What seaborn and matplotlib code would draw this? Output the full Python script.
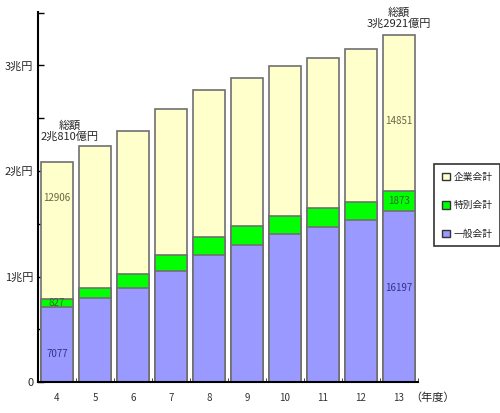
import matplotlib
matplotlib.use("Agg")
import matplotlib.pyplot as plt
import matplotlib.patches as mpatches
import seaborn as sns
import pandas as pd

# 単位: 億円
years = ["4", "5", "6", "7", "8", "9", "10", "11", "12", "13"]
general = [7077, 7930, 8940, 10520, 12010, 12990, 14000, 14690, 15330, 16197]
special = [827, 1010, 1300, 1550, 1700, 1770, 1770, 1770, 1700, 1873]
enterprise = [12906, 13430, 13580, 13810, 13970, 14080, 14180, 14280, 14500, 14851]

series_names = ["企業会計", "特別会計", "一般会計"]
colors = {"企業会計": "#FFFFCC", "特別会計": "#00FF00", "一般会計": "#9999FF"}

yticks_major = [0, 10000, 20000, 30000]
ytick_labels = ["0", "1兆円", "2兆円", "3兆円"]

df = pd.DataFrame({"year": years, "general": general, "special": special,
                   "enterprise": enterprise})
df["gs"] = df["general"] + df["special"]
df["total"] = df["gs"] + df["enterprise"]

sns.set_style("white")
plt.rcParams["font.family"] = ["Noto Sans CJK JP", "DejaVu Sans"]

fig = plt.figure(figsize=(5, 4.13), dpi=100)
ax = fig.add_axes([0.076, 0.075, 0.76, 0.896])

# stacked by overlaying cumulative heights
for col, name in [("total", "企業会計"), ("gs", "特別会計"), ("general", "一般会計")]:
    sns.barplot(data=df, x="year", y=col, color=colors[name], width=0.84,
                edgecolor="#707070", linewidth=1.2, saturation=1, ax=ax)

ax.set_xlim(-0.5, 9.5)
ax.set_ylim(0, 35070)
ax.set_yticks(yticks_major)
ax.set_yticklabels(ytick_labels, fontsize=8)
ax.set_yticks([5000, 15000, 25000, 35000], minor=True)
ax.tick_params(axis="y", which="both", direction="in", length=4, width=1,
               color="black", left=True)
ax.set_xticks(range(len(years)))
ax.set_xticklabels(years, fontsize=7, color="#333333")
ax.tick_params(axis="x", length=0, pad=8)
ax.set_xticks([i + 0.5 for i in range(len(years))], minor=True)
ax.tick_params(axis="x", which="minor", direction="in", length=3, bottom=True)
ax.set_xlabel("")
ax.set_ylabel("")
for s in ["top", "right"]:
    ax.spines[s].set_visible(False)
for s in ["left", "bottom"]:
    ax.spines[s].set_color("black")
    ax.spines[s].set_linewidth(1.5)

ax.text(9.88, -1500, "（年度）", fontsize=8, ha="center", va="center",
        clip_on=False)

# value labels
ax.text(0, df["gs"][0] + enterprise[0] * 0.74, f"{enterprise[0]}", ha="center",
        va="center", fontsize=7, color="#666644")
ax.text(0, general[0] + special[0] / 2, f"{special[0]}", ha="center",
        va="center", fontsize=7, color="#336633")
ax.text(0, general[0] * 0.37, f"{general[0]}", ha="center", va="center",
        fontsize=7, color="#333388")
ax.text(9, df["gs"][9] + enterprise[9] * 0.45, f"{enterprise[9]}", ha="center",
        va="center", fontsize=7, color="#666644")
ax.text(9, general[9] + special[9] / 2, f"{special[9]}", ha="center",
        va="center", fontsize=7, color="#336633")
ax.text(9, general[9] * 0.55, f"{general[9]}", ha="center", va="center",
        fontsize=7, color="#333388")

ax.text(0.34, df["total"][0] + 2000, "総額\n2兆810億円", ha="center",
        va="bottom", fontsize=8, linespacing=1.05)
ax.text(9.0, df["total"][9] + 550, "総額\n3兆2921億円", ha="center",
        va="bottom", fontsize=8, linespacing=1.05, clip_on=False)

handles = [mpatches.Patch(facecolor=colors[n], edgecolor="#333333", label=n)
           for n in series_names]
leg = fig.legend(handles=handles, loc="upper left",
                 bbox_to_anchor=(0.868, 0.603), fontsize=7, frameon=True,
                 fancybox=False, edgecolor="black", handlelength=0.8,
                 handleheight=0.8, handletextpad=0.4, labelspacing=1.9,
                 borderpad=0.8, borderaxespad=0)
leg.get_frame().set_linewidth(1.2)

fig.savefig("out.png", dpi=100)
